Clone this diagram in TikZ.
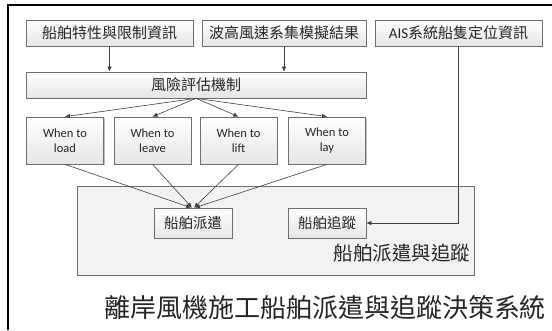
\documentclass[tikz,border=0pt]{standalone}
\usepackage{fontspec}
\setmainfont{Carlito}
\newfontfamily\cjk{Noto Sans CJK TC}
\usetikzlibrary{arrows.meta,shadows}
\definecolor{edgegray}{HTML}{6E6E6E}
\definecolor{linegray}{HTML}{404040}
\definecolor{txt}{HTML}{262626}
\tikzset{
  boxstyle/.style={draw=edgegray, line width=0.7pt, top color=white, bottom color=black!10,
    inner sep=0pt, text=txt, align=center,
    drop shadow={shadow xshift=1pt, shadow yshift=-1pt, opacity=0.25, fill=black}},
  cbox/.style={boxstyle, font=\cjk\fontsize{15}{18}\selectfont},
  wbox/.style={boxstyle, font=\fontsize{12.5}{15.5}\selectfont, minimum width=77pt, minimum height=47pt},
  bigbox/.style={draw=edgegray, line width=0.7pt, fill=black!5, inner sep=0pt,
    drop shadow={shadow xshift=1pt, shadow yshift=-1pt, opacity=0.25, fill=black}},
  conn/.style={draw=linegray, line width=0.6pt, -{Latex[length=5pt,width=4.5pt]}},
}
\begin{document}
\begin{tikzpicture}[x=1pt,y=-1pt]
\useasboundingbox (0,0) rectangle (552,330);
\fill[white] (0,0) rectangle (552,330);
% outer frame (partially visible)
\draw[line width=2pt, black] (8,330) -- (8,5) -- (552,5);

% top boxes
\node[cbox, minimum width=167pt, minimum height=26pt] (ship) at (109.5,33) {船舶特性與限制資訊};
\node[cbox, minimum width=164pt, minimum height=26pt] (wave) at (284,33) {波高風速系集模擬結果};
\node[cbox, minimum width=167pt, minimum height=26pt] (ais) at (458.5,33) {\fontspec{Carlito}AIS{\cjk 系統船隻定位資訊}};

% risk
\node[cbox, minimum width=340pt, minimum height=26pt] (risk) at (196,85) {風險評估機制};

% when boxes
\node[wbox] (load) at (65,140.5) {When to\\load};
\node[wbox] (leave) at (152.5,140.5) {When to\\leave};
\node[wbox] (lift) at (238.5,140.5) {When to\\lift};
\node[wbox] (lay) at (327,140.5) {When to\\lay};

% big container
\node[bigbox, minimum width=397pt, minimum height=89pt] (big) at (275.5,230.5) {};
\node[text=txt, font=\cjk\fontsize{19.5}{22}\selectfont, inner sep=0pt] (biglabel) at (402,253) {船舶派遣與追蹤};

\node[cbox, font=\cjk\fontsize{14.5}{17}\selectfont, minimum width=78pt, minimum height=30pt] (dispatch) at (193,223) {船舶派遣};
\node[cbox, font=\cjk\fontsize{14.5}{17}\selectfont, minimum width=78pt, minimum height=30pt] (track) at (327,223) {船舶追蹤};

% title
\node[text=txt, font=\cjk\fontsize{26}{30}\selectfont, inner sep=0pt] (title) at (325,308) {離岸風機施工船舶派遣與追蹤決策系統};

% connectors
\draw[conn] (ship.south) -- (ship.south |- risk.north);
\draw[conn] (wave.south) -- (wave.south |- risk.north);
\draw[conn] (risk.south) -- (load.north);
\draw[conn] (risk.south) -- (leave.north);
\draw[conn] (risk.south) -- (lift.north);
\draw[conn] (risk.south) -- (lay.north);
\draw[conn] (load.south) -- ([xshift=-2pt]dispatch.north);
\draw[conn] (leave.south) -- ([xshift=-1pt]dispatch.north);
\draw[conn] (lift.south) -- ([xshift=1pt]dispatch.north);
\draw[conn] (lay.south) -- ([xshift=2pt]dispatch.north);
\draw[conn] (ais.south) |- (track.east);
\end{tikzpicture}
\end{document}
